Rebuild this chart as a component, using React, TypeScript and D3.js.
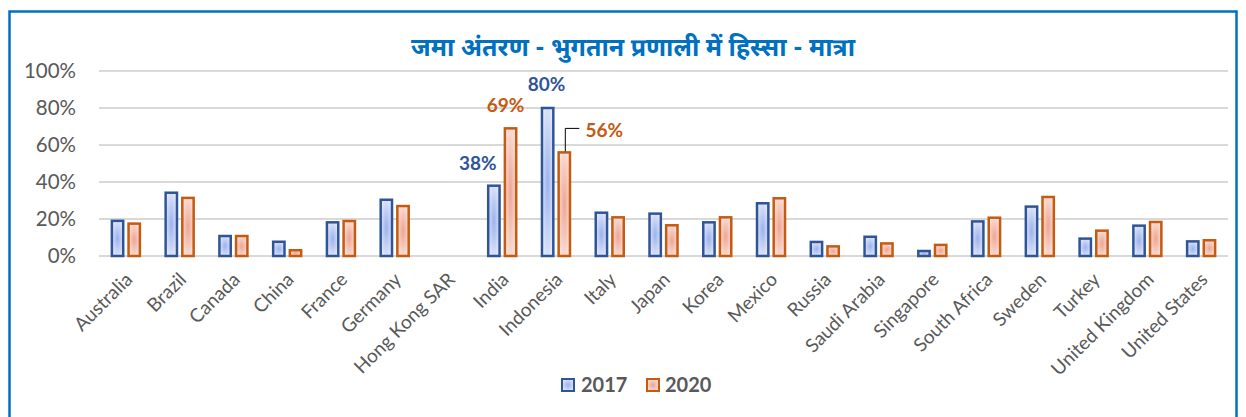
import React from "react";
import * as d3 from "d3";

const categories = [
  "Australia", "Brazil", "Canada", "China", "France", "Germany", "Hong Kong SAR",
  "India", "Indonesia", "Italy", "Japan", "Korea", "Mexico", "Russia",
  "Saudi Arabia", "Singapore", "South Africa", "Sweden", "Turkey",
  "United Kingdom", "United States",
];
const years = ["2017", "2020"];
const values2017 = [19, 34.2, 10.8, 7.7, 18.2, 30.4, null, 38, 80, 23.4, 22.9, 18.2, 28.5, 7.6, 10.4, 2.7, 18.7, 26.7, 9.4, 16.4, 7.9];
const values2020 = [17.5, 31.4, 10.8, 3.1, 18.9, 27.0, null, 69, 56, 20.9, 16.6, 20.9, 31.2, 5.2, 6.8, 6.0, 20.7, 31.9, 13.7, 18.4, 8.5];
const yTicks = [0, 20, 40, 60, 80, 100];
const title = "जमा अंतरण - भुगतान प्रणाली में हिस्सा - मात्रा";

const W = 1246;
const H = 417;
const font = "Lato, 'Open Sans', 'Noto Sans', sans-serif";

export default function App() {
  const x0 = d3.scaleBand<string>().domain(categories).range([99, 1228]);
  const x1 = d3.scaleBand<string>().domain(years).range([-15, 15]).paddingInner(0.2);
  const y = d3.scaleLinear().domain([0, 100]).range([256, 71]);

  const series = [
    { year: "2017", values: values2017, stroke: "#2F5597", grad: "g2017" },
    { year: "2020", values: values2020, stroke: "#C55A11", grad: "g2020" },
  ];

  const cx = (c: string) => (x0(c) as number) + x0.bandwidth() / 2;

  return (
    <svg width={W} height={H} style={{ position: "absolute", left: 0, top: 0 }}>
      <defs>
        <radialGradient id="g2017" cx="0.5" cy="0.5" r="0.6">
          <stop offset="0" stopColor="#9CB2EE" />
          <stop offset="1" stopColor="#E6EBFA" />
        </radialGradient>
        <radialGradient id="g2020" cx="0.5" cy="0.5" r="0.6">
          <stop offset="0" stopColor="#EEA593" />
          <stop offset="1" stopColor="#FBE5DF" />
        </radialGradient>
      </defs>
      <rect x={0} y={0} width={W} height={H} fill="#fff" />
      <rect x={9.5} y={11.5} width={1227} height={420} fill="#fff" stroke="#0070C0" strokeWidth={2.5} />

      <text x={633} y={56} textAnchor="middle" fontSize={25} fontWeight="bold" fill="#0070C0"
        fontFamily="'Noto Sans Devanagari', 'Noto Sans', sans-serif">{title}</text>

      {yTicks.map((t) => (
        <g key={t}>
          <line x1={99} x2={1228} y1={y(t)} y2={y(t)} stroke="#D9D9D9" strokeWidth={2} />
          <text x={76} y={y(t)} dy="0.35em" textAnchor="end" fontSize={20.5} fill="#595959" fontFamily={font}>{t}%</text>
        </g>
      ))}

      {series.map((s) =>
        categories.map((c, i) => {
          const v = s.values[i];
          if (v == null) return null;
          const bx = cx(c) + (x1(s.year) as number);
          return (
            <rect key={s.year + c} x={bx + 1} y={y(v)} width={x1.bandwidth() - 2} height={y(0) - y(v)}
              fill={`url(#${s.grad})`} stroke={s.stroke} strokeWidth={2.5} />
          );
        })
      )}

      {categories.map((c) => (
        <text key={c} transform={`translate(${cx(c) + 3},${276}) rotate(-45)`} textAnchor="end"
          fontSize={19} fill="#595959" fontFamily={font} dy="0.35em">{c}</text>
      ))}

      {/* data labels */}
      {(() => {
        const iIndia = categories.indexOf("India");
        const iIndo = categories.indexOf("Indonesia");
        const lbl = { fontSize: 19, fontWeight: "bold" as const, fontFamily: font, textAnchor: "middle" as const };
        const x17India = cx("India") + (x1("2017") as number) + x1.bandwidth() / 2;
        const x20India = cx("India") + (x1("2020") as number) + x1.bandwidth() / 2;
        const x17Indo = cx("Indonesia") + (x1("2017") as number) + x1.bandwidth() / 2;
        const x20Indo = cx("Indonesia") + (x1("2020") as number) + x1.bandwidth() / 2;
        const v56 = values2020[iIndo] as number;
        return (
          <g>
            <text x={x17India - 16} y={y(values2017[iIndia] as number) - 22} dy="0.35em" fill="#2F5597" {...lbl}>38%</text>
            <text x={x20India - 5} y={y(values2020[iIndia] as number) - 23} dy="0.35em" fill="#C55A11" {...lbl}>69%</text>
            <text x={x17Indo - 1} y={y(values2017[iIndo] as number) - 24} dy="0.35em" fill="#2F5597" {...lbl}>80%</text>
            <text x={x20Indo + 40} y={y(v56) - 22} dy="0.35em" fill="#C55A11" {...lbl}>56%</text>
            <polyline points={`${x20Indo + 1},${y(v56) - 1} ${x20Indo + 1},${y(v56) - 24} ${x20Indo + 15},${y(v56) - 24}`}
              fill="none" stroke="#000" strokeWidth={1} />
          </g>
        );
      })()}

      {/* legend */}
      <rect x={562} y={379} width={12} height={12} fill="url(#g2017)" stroke="#2F5597" strokeWidth={2} />
      <text x={581} y={385} dy="0.35em" fontSize={20} fontWeight="bold" fill="#595959" fontFamily={font}>2017</text>
      <rect x={647} y={379} width={12} height={12} fill="url(#g2020)" stroke="#C55A11" strokeWidth={2} />
      <text x={665} y={385} dy="0.35em" fontSize={20} fontWeight="bold" fill="#595959" fontFamily={font}>2020</text>
    </svg>
  );
}
